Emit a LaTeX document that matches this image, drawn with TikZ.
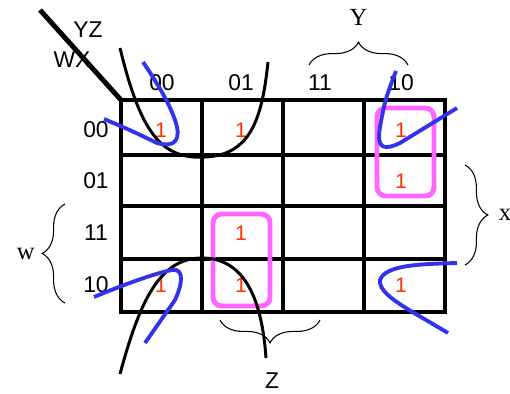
\documentclass[tikz,border=0pt]{standalone}
\usepackage{fontspec}
\setmainfont{Liberation Serif}
\setsansfont{Liberation Sans}
\usetikzlibrary{decorations.pathreplacing, positioning, calc}
\definecolor{onered}{HTML}{FF3300}
\definecolor{loopmag}{HTML}{FF66FF}
\definecolor{curveblue}{HTML}{3333EE}
\tikzset{
  gridline/.style={line width=2.8pt},
  cellone/.style={text=onered, font=\sffamily\fontsize{12}{14}\selectfont, inner sep=0pt},
  axislabel/.style={font=\sffamily\fontsize{13}{15}\selectfont, inner sep=0pt},
  bracelabel/.style={font=\rmfamily\fontsize{14}{16}\selectfont, inner sep=0pt},
  loopbox/.style={draw=loopmag, line width=2.8pt, rounded corners=5pt},
  blackcurve/.style={line width=1.7pt},
  bluecurve/.style={curveblue, line width=2.2pt},
  kbrace/.style={decorate, decoration={brace, amplitude=13pt}, line width=0.6pt}
}

\begin{document}
\begin{tikzpicture}[x=0.02cm, y=-0.02cm]
    \useasboundingbox (0,0) rectangle (510,393);

    % Rejilla del mapa
    \draw[gridline] (121,100) rectangle (445,312);
    \foreach \x in {202,283,364} {
        \draw[gridline] (\x,100) -- (\x,312);
    }
    \foreach \y in {155,206,259} {
        \draw[gridline] (121,\y) -- (445,\y);
    }
    \draw[gridline] (40,10) -- (121,100);

    % Etiquetas de variables
    \node[axislabel] (yz) at (88,30) {YZ};
    \node[axislabel] (wx) at (72,60) {WX};
    \foreach \x/\lab/\nm in {162/00/c0, 241/01/c1, 320/11/c3, 401/10/c2} {
        \node[axislabel] (\nm) at (\x,83) {\lab};
    }
    \foreach \y/\lab/\nm in {130/00/r0, 181/01/r1, 233/11/r3, 285/10/r2} {
        \node[axislabel] (\nm) at (96,\y) {\lab};
    }

    % Unos del mapa
    \foreach \x/\y/\nm in {161/130/a, 241/130/b, 401/130/c, 401/181/d,
                           241/233/e, 161/285/f, 241/285/g, 401/285/h} {
        \node[cellone] (one\nm) at (\x,\y) {1};
    }

    % Grupos (rosa)
    \draw[loopbox] (377,108) rectangle (434,196);
    \draw[loopbox] (213,214) rectangle (270,306);

    % Llaves
    \draw[kbrace] (309,65) -- (408,65) node[midway, above=22pt, bracelabel] (ylab) {Y};
    \draw[kbrace] (465,165) -- (465,265) node[midway, right=19pt, bracelabel] (xlab) {x};
    \draw[kbrace] (65,303) -- (65,204) node[midway, left=17pt, bracelabel] (wlab) {w};
    \draw[kbrace] (320,320) -- (220,320);
    \node[axislabel] (zlab) at (272,381) {Z};

    % Curvas negras
    \draw[blackcurve] (120,48) .. controls (140,130) and (160,160) .. (205,157)
        .. controls (250,155) and (262,120) .. (268,62);
    \draw[blackcurve] (120,374) .. controls (140,300) and (160,258) .. (202,258)
        .. controls (245,258) and (262,300) .. (266,358);

    % Curvas azules
    \draw[bluecurve] (104,119) .. controls (130,130) .. (157,143)
        .. controls (175,148) and (182,140) .. (175,120)
        .. controls (168,100) and (155,80) .. (143,62);
    \draw[bluecurve] (396,71) .. controls (385,100) .. (380,127)
        .. controls (376,150) and (385,150) .. (400,143) -- (457,108);
    \draw[bluecurve] (94,297) .. controls (130,282) and (160,272) .. (172,270)
        .. controls (185,268) and (182,285) .. (175,300) -- (145,343);
    \draw[bluecurve] (457,263) .. controls (420,264) and (385,265) .. (380,280)
        .. controls (378,295) and (410,310) .. (448,333);

\end{tikzpicture}
\end{document}
